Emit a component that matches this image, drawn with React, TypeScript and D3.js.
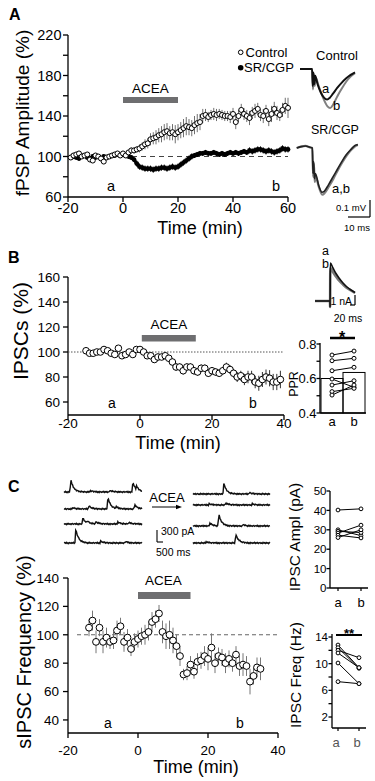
import React from 'react';
import * as d3 from 'd3';

const FONT = '"Liberation Sans", Arial, Helvetica, sans-serif';
const BAR = '#6e6e70';
const ERR = '#707070';

// ---------------- Panel A ----------------
const aStart = -19; // minutes, one point per minute
const aControl = [99, 101, 102, 103, 100, 101, 102, 97, 96, 101, 100, 98, 95, 99, 100, 101, 102, 103, 101,
  103, 101, 104, 106, 106,
  107, 108, 110, 112, 113, 117,
  118, 119, 121, 122, 124, 125, 123, 124, 122, 124,
  126, 128, 130, 129, 128, 131, 133, 134, 140, 141,
  139, 141, 142, 141, 142, 141, 140, 140, 139, 142,
  134, 140, 146, 142, 140, 138, 143, 145, 147, 141,
  140, 145, 137, 142, 147, 143, 141, 146, 150, 148];
const aControlErr = [2, 2, 2, 2, 2, 2, 2, 2, 2, 2, 2, 2, 2, 2, 2, 2, 2, 2, 2, 2, 2, 2, 3, 3,
  3, 4, 4, 5, 5, 6,
  6, 7, 7, 8, 8, 8, 7, 8, 9, 8,
  8, 9, 9, 8, 8, 9, 9, 8, 7, 6,
  5, 5, 6, 6, 5, 5, 5, 5, 6, 6,
  7, 6, 6, 6, 6, 7, 6, 7, 6, 6,
  7, 6, 7, 8, 7, 7, 6, 7, 8, 10];
const aSR = [99, 100, 99, 98, 100, 101, 99, 98, 100, 99, 100, 98, 100, 99, 100, 101, 101, 102, 101,
  102, 101, 100, 99, 97,
  93, 90, 89, 88, 88, 88,
  87, 88, 88, 89, 89, 88, 89, 90, 89, 90,
  92, 94, 96, 98, 100, 101, 102, 103, 103, 104,
  103, 103, 104, 103, 102, 103, 102, 103, 104, 103,
  104, 103, 104, 105, 104, 106, 105, 106, 107, 107,
  106, 105, 106, 105, 104, 105, 106, 108, 107, 107];
const aSRErr = [2, 2, 2, 2, 2, 2, 2, 2, 2, 2, 2, 2, 2, 2, 2, 2, 2, 2, 2,
  2, 2, 2, 2.5, 2.5,
  3, 3, 3, 3, 3, 3,
  3, 3, 3, 3, 3, 3, 3, 3, 3, 3,
  3, 3, 3, 3, 3, 2.5, 2.5, 2.5, 2.5, 2.5,
  2.5, 2.5, 2.5, 2.5, 2.5, 2.5, 2.5, 2.5, 2.5, 2.5,
  2.5, 2.5, 2.5, 2.5, 2.5, 3, 3, 3, 3, 3,
  3, 3, 3, 3, 3, 3, 3, 3, 3, 3];
const aYTicks = [60, 100, 140, 180, 220];
const aYMinor = [80, 120, 160, 200];
const aXTicks = [-20, 0, 20, 40, 60];
const aDrug = [0, 20];

// fEPSP example traces: [ms, mV]
const ctrlTraceA = [[0, 0], [5.5, 0], [5.8, -0.1], [6.1, -0.02], [6.5, -0.09], [6.9, -0.04], [8, -0.09], [9.5, -0.14], [11, -0.17], [12.3, -0.18], [13.5, -0.17], [15, -0.145], [17, -0.11], [19, -0.08], [21, -0.055], [23, -0.035], [25, -0.02]];
const ctrlTraceB = [[0, 0], [5.5, 0], [5.9, -0.12], [6.3, -0.03], [6.7, -0.1], [7.1, -0.05], [8.5, -0.1], [10.5, -0.17], [12.5, -0.22], [13.7, -0.23], [15, -0.21], [17, -0.16], [19, -0.115], [21, -0.075], [23, -0.045], [25, -0.025]];
const srTraceA = [[-1.5, 0], [0.5, 0.008], [2.5, 0.012], [4.5, 0.004], [5.6, 0], [5.9, -0.15], [6.2, -0.08], [6.6, -0.18], [7, -0.15], [8.5, -0.22], [10, -0.26], [11, -0.255], [13, -0.215], [15, -0.17], [17, -0.125], [19, -0.08], [21, -0.04], [23, -0.01], [25, 0.015], [26.3, 0.02]];
const srTraceB = [[-1.5, 0], [0.5, 0.008], [2.5, 0.012], [4.5, 0.004], [5.6, 0], [6.0, -0.17], [6.3, -0.09], [6.7, -0.2], [7.1, -0.17], [8.7, -0.235], [10.2, -0.275], [11.2, -0.265], [13.2, -0.225], [15.2, -0.18], [17.2, -0.13], [19.2, -0.085], [21.2, -0.045], [23.2, -0.012], [25.2, 0.012], [26.3, 0.018]];

// ---------------- Panel B ----------------
const bStart = -15;
const bIPSC = [101, 99, 99, 100, 100, 102, 101, 99, 98, 103, 97, 98, 100, 98, 102, 102, 100, 97, 97, 94, 96, 96, 97, 95, 92, 88, 88, 85, 88, 88, 85, 84, 87, 87, 83, 85, 84, 83, 85, 88, 86, 83, 80, 81, 78, 80, 80, 76, 75, 78, 80, 79, 76, 76, 78];
const bIPSCErr = [1.5, 1.5, 1.5, 1.5, 1.5, 1.5, 1.5, 1.5, 1.5, 2, 1.5, 1.5, 1.5, 1.5, 2,
  2, 2, 2, 2, 2.5, 2.5, 2.5, 2.5, 2.5, 3,
  3, 3, 3, 3, 3, 3, 3, 3, 3, 3,
  3, 3, 3, 3, 3.5, 3.5, 3.5, 4, 4, 4.5,
  5, 5, 5, 6, 6, 6, 6.5, 6.5, 6.5, 7];
const bYTicks = [60, 80, 100, 120, 140, 160];
const bXTicks = [-20, 0, 20, 40];
const bDrug = [0.5, 15.5];
// eIPSC example traces: [ms, nA]
const ipscTraceA = [[0, 0], [15, 0], [15.1, -0.6], [15.3, 3.8], [18, 3.3], [21, 2.75], [24, 2.3], [28, 1.8], [32, 1.4], [36, 1.1], [40, 0.85]];
const ipscTraceB = [[0, 0], [15, 0], [15.1, -0.6], [15.3, 3.3], [18, 2.9], [21, 2.45], [24, 2.05], [28, 1.65], [32, 1.3], [36, 1.05], [40, 0.8]];
// PPR
const pprCats = ['a', 'b'];
const pprA = [0.736, 0.703, 0.645, 0.597, 0.562, 0.524, 0.504];
const pprB = [0.759, 0.717, 0.665, 0.549, 0.587, 0.543, 0.562];
const pprMean = [0.6, 0.635];
const pprTicks = [0.4, 0.6, 0.8];
const pprMinor = [0.5, 0.7];

// ---------------- Panel C ----------------
const cStart = -14;
const cFreq = [105, 110, 95, 105, 95, 98, 95, 96, 103, 106, 95, 98, 90, 95, 97, 99, 100, 102, 109, 111, 115, 102, 99, 100, 96, 92, 85, 72, 73, 79, 74, 81, 82, 85, 83, 91, 80, 85, 84, 80, 83, 80, 86, 78, 79, 78, 67, 71, 77, 76];
const cFreqErr = [6, 7, 8, 6, 8, 7, 5, 6, 7, 6, 7, 6, 5, 6, 6, 6, 7, 6, 7, 6, 6, 8, 9, 10, 9, 8, 7, 4, 5, 6, 5, 6, 6, 7, 8, 10, 7, 6, 6, 7, 6, 6, 6, 7, 8, 7, 9, 6, 7, 8];
const cYTicks = [40, 60, 80, 100, 120, 140];
const cXTicks = [-20, 0, 20, 40];
const cDrug = [0, 15];
const amplA = [40.2, 30.0, 29.2, 28.3, 27.2, 26.0];
const amplB = [40.8, 27.0, 28.6, 32.4, 25.8, 30.0];
const amplTicks = [0, 10, 20, 30, 40, 50];
const freqA = [12.8, 12.4, 12.0, 11.6, 10.1, 7.3];
const freqB = [9.4, 9.3, 10.9, 9.4, 7.0, 7.0];
const freqTicks = [2, 6, 10, 14];
const freqMinor = [4, 8, 12];
// sIPSC sample traces: events [ms, pA]
const ipscDur = 2500;
const leftEvents = [
  [[190, 320], [820, 35], [1450, 40], [2180, 250], [2300, 90]],
  [[260, 35], [770, 80], [1380, 300], [1650, 45], [2240, 110]],
  [[577, 150], [720, 50], [1000, 55], [1700, 50], [2050, 40]],
  [[352, 350], [1150, 45], [1950, 35]],
];
const rightEvents = [
  [[974, 275], [1800, 35]],
  [[500, 30], [1039, 50], [1900, 30]],
  [[520, 75], [812, 300], [1600, 35]],
  [[400, 30], [1364, 225]],
];
const ipscNoise = [10, -8, 14, -12, 5, -15, 12, 3, -10, 8, -5, 15, -12, 7, -3, 12, -14, 5, 10, -8, 3, -12, 15, -5, 8, -10, 12, -3, 5, -15, 10, -8, 14, -5, 3, -12, 8, 12, -10, 5];

// ---------------- helpers ----------------
type S = d3.ScaleLinear<number, number>;

function YAxis({ scale, x, ticks, minor = [], size, labelX, tick = 5, fmt = (d: number) => String(d), top, bottom }: any) {
  return (
    <g>
      <line x1={x} x2={x} y1={bottom} y2={top} stroke="#000" strokeWidth={1.3} />
      {ticks.map((t: number) => (
        <g key={t}>
          <line x1={x - tick} x2={x} y1={scale(t)} y2={scale(t)} stroke="#000" strokeWidth={1.3} />
          <text x={labelX} y={scale(t)} dy="0.36em" textAnchor="end" fontSize={size}>{fmt(t)}</text>
        </g>
      ))}
      {minor.map((t: number) => (
        <line key={'m' + t} x1={x - tick} x2={x} y1={scale(t)} y2={scale(t)} stroke="#000" strokeWidth={1.3} />
      ))}
    </g>
  );
}

function XAxis({ scale, y, ticks, size, labelY, tick = 5, left, right }: any) {
  return (
    <g>
      <line x1={left} x2={right} y1={y} y2={y} stroke="#000" strokeWidth={1.3} />
      {ticks.map((t: number) => (
        <g key={t}>
          <line x1={scale(t)} x2={scale(t)} y1={y} y2={y + tick} stroke="#000" strokeWidth={1.3} />
          <text x={scale(t)} y={labelY} textAnchor="middle" fontSize={size}>{t}</text>
        </g>
      ))}
    </g>
  );
}

function RotLabel({ x, y, size, children }: any) {
  return (
    <text transform={`translate(${x},${y}) rotate(-90)`} textAnchor="middle" fontSize={size}>{children}</text>
  );
}

function ErrBars({ vals, errs, start, xs, ys, color = ERR, w = 1 }: any) {
  return (
    <g stroke={color} strokeWidth={w}>
      {vals.map((v: number, i: number) => (
        <line key={i} x1={xs(start + i)} x2={xs(start + i)} y1={ys(v - errs[i])} y2={ys(v + errs[i])} />
      ))}
    </g>
  );
}

function OpenCircles({ vals, start, xs, ys, r }: any) {
  return (
    <g fill="#fff" stroke="#000" strokeWidth={1}>
      {vals.map((v: number, i: number) => (
        <circle key={i} cx={xs(start + i)} cy={ys(v)} r={r} />
      ))}
    </g>
  );
}

function curvePath(pts: number[][], xs: S, ys: S) {
  return d3.line<number[]>().x(d => xs(d[0])).y(d => ys(d[1])).curve(d3.curveMonotoneX)(pts) || '';
}

function sipscPath(events: number[][], x0: number, width: number, base: number, row: number) {
  const xs = d3.scaleLinear().domain([0, ipscDur]).range([x0, x0 + width]);
  const ys = d3.scaleLinear().domain([0, 300]).range([base, base - 12]);
  const dt = 25;
  const tau = 90;
  const rise = 25;
  const pts: number[][] = [];
  for (let i = 0; i * dt <= ipscDur; i++) {
    const t = i * dt;
    let v = ipscNoise[(i + row * 13) % ipscNoise.length];
    for (const [t0, a] of events) {
      const d = t - t0;
      if (d >= 0) v += d < rise ? a * (d / rise) : a * Math.exp(-(d - rise) / tau);
    }
    pts.push([t, v]);
  }
  return d3.line<number[]>().x(d => xs(d[0])).y(d => ys(d[1]))(pts) || '';
}

function PairedLines({ a, b, xa, xb, ys, r = 2 }: any) {
  return (
    <g>
      {a.map((v: number, i: number) => (
        <line key={'l' + i} x1={xa} x2={xb} y1={ys(v)} y2={ys(b[i])} stroke="#000" strokeWidth={1} />
      ))}
      {a.map((v: number, i: number) => (
        <g key={'c' + i} fill="#fff" stroke="#000" strokeWidth={1}>
          <circle cx={xa} cy={ys(v)} r={r} />
          <circle cx={xb} cy={ys(b[i])} r={r} />
        </g>
      ))}
    </g>
  );
}

export default function App() {
  // ----- A scales -----
  const xA = d3.scaleLinear().domain([-20, 60]).range([68, 288]);
  const yA = d3.scaleLinear().domain([60, 220]).range([197, 35]);
  const xTA = d3.scaleLinear().domain([0, 25]).range([300, 355]);
  const yTCtrl = d3.scaleLinear().domain([0, -0.1]).range([69, 86]);
  const yTSR = d3.scaleLinear().domain([0, -0.1]).range([148, 165]);

  // ----- B scales -----
  const xB = d3.scaleLinear().domain([-20, 40]).range([68, 284]);
  const yB = d3.scaleLinear().domain([49.6, 160]).range([415, 277]);
  const xTB = d3.scaleLinear().domain([0, 40]).range([315, 355]);
  const yTB = d3.scaleLinear().domain([0, 1]).range([301, 291]);
  const xP = d3.scaleBand<string>().domain(pprCats).range([321, 365]).paddingInner(0);
  const yP = d3.scaleLinear().domain([0.4, 0.8]).range([413, 344]);

  // ----- C scales -----
  const xC = d3.scaleLinear().domain([-20, 40]).range([68, 278]);
  const yC = d3.scaleLinear().domain([30.8, 140]).range([733, 578]);
  const xAmp = d3.scalePoint<string>().domain(pprCats).range([338, 361]);
  const yAmp = d3.scaleLinear().domain([0, 50]).range([588, 491]);
  const xFr = d3.scalePoint<string>().domain(pprCats).range([338, 359]);
  const yFr = d3.scaleLinear().domain([0.35, 14.45]).range([728, 634]);

  const srLine = d3.line<number>().x((_, i) => xA(aStart + i)).y(d => yA(d))(aSR) || '';

  return (
    <svg width={375} height={781} style={{ position: 'absolute', left: 0, top: 0, background: '#fff' }} fontFamily={FONT}>
      <rect x={0} y={0} width={375} height={781} fill="#fff" />
      {/* ================= A ================= */}
      <text x={9} y={20} fontSize={16} fontWeight="bold">A</text>
      <RotLabel x={29} y={113} size={19}>fPSP Amplitude (%)</RotLabel>
      <YAxis scale={yA} x={68} ticks={aYTicks} minor={aYMinor} size={14.5} labelX={61.5} top={35} bottom={197} />
      <XAxis scale={xA} y={197} ticks={aXTicks} size={14.5} labelY={213} left={68} right={288} />
      <text x={200} y={234} textAnchor="middle" fontSize={18}>Time (min)</text>
      <line x1={xA(0)} x2={xA(60)} y1={yA(100)} y2={yA(100)} stroke="#444" strokeWidth={1.2} strokeDasharray="5,4" />
      <rect x={xA(aDrug[0])} y={97} width={xA(aDrug[1]) - xA(aDrug[0])} height={6} fill={BAR} />
      <text x={(xA(aDrug[0]) + xA(aDrug[1])) / 2} y={93} textAnchor="middle" fontSize={13.5}>ACEA</text>
      <ErrBars vals={aControl} errs={aControlErr} start={aStart} xs={xA} ys={yA} />
      <ErrBars vals={aSR} errs={aSRErr} start={aStart} xs={xA} ys={yA} color="#000" />
      <path d={srLine} fill="none" stroke="#000" strokeWidth={3.2} />
      <g fill="#000">
        {aSR.map((v, i) => <circle key={i} cx={xA(aStart + i)} cy={yA(v)} r={2.4} />)}
      </g>
      <OpenCircles vals={aControl} start={aStart} xs={xA} ys={yA} r={2.5} />
      <text x={111} y={191} textAnchor="middle" fontSize={14.5}>a</text>
      <text x={276} y={191} textAnchor="middle" fontSize={14.5}>b</text>
      {/* legend */}
      <circle cx={240.7} cy={52.3} r={2.3} fill="#fff" stroke="#000" strokeWidth={1} />
      <text x={245.5} y={56.5} fontSize={13}>Control</text>
      <circle cx={240.7} cy={67.7} r={2.8} fill="#000" />
      <text x={244} y={72} fontSize={13}>SR/CGP</text>
      {/* fEPSP traces */}
      <text x={337} y={60} textAnchor="middle" fontSize={13}>Control</text>
      <path d={curvePath(ctrlTraceB, xTA, yTCtrl)} fill="none" stroke="#808080" strokeWidth={2} />
      <path d={curvePath(ctrlTraceA, xTA, yTCtrl)} fill="none" stroke="#111" strokeWidth={2} />
      <text x={322} y={93} fontSize={13}>a</text>
      <text x={333} y={110} fontSize={13}>b</text>
      <text x={335} y={134} textAnchor="middle" fontSize={12.5}>SR/CGP</text>
      <path d={curvePath(srTraceB, xTA, yTSR)} fill="none" stroke="#808080" strokeWidth={2.2} />
      <path d={curvePath(srTraceA, xTA, yTSR)} fill="none" stroke="#222" strokeWidth={1.6} />
      <text x={332} y={193} fontSize={13}>a,b</text>
      <line x1={370} x2={370} y1={200} y2={217} stroke="#000" strokeWidth={1.2} />
      <line x1={348} x2={370} y1={217} y2={217} stroke="#000" strokeWidth={1.2} />
      <text x={366} y={211} textAnchor="end" fontSize={9.5}>0.1 mV</text>
      <text x={357} y={231} textAnchor="middle" fontSize={9.5}>10 ms</text>

      {/* ================= B ================= */}
      <text x={8} y={263} fontSize={16} fontWeight="bold">B</text>
      <RotLabel x={28} y={331} size={21}>IPSCs (%)</RotLabel>
      <YAxis scale={yB} x={68} ticks={bYTicks} size={13.5} labelX={60} top={277} bottom={415} />
      <XAxis scale={xB} y={415} ticks={bXTicks} size={13.5} labelY={428} left={68} right={284} />
      <text x={178} y={449} textAnchor="middle" fontSize={18}>Time (min)</text>
      <line x1={xB(-20)} x2={xB(40)} y1={yB(100)} y2={yB(100)} stroke="#555" strokeWidth={1} strokeDasharray="1.5,1.5" />
      <rect x={xB(bDrug[0])} y={335} width={xB(bDrug[1]) - xB(bDrug[0])} height={6.5} fill={BAR} />
      <text x={169} y={329} textAnchor="middle" fontSize={13.5}>ACEA</text>
      <ErrBars vals={bIPSC} errs={bIPSCErr} start={bStart} xs={xB} ys={yB} color="#333" />
      <OpenCircles vals={bIPSC} start={bStart} xs={xB} ys={yB} r={3.3} />
      <text x={112} y={408} textAnchor="middle" fontSize={14}>a</text>
      <text x={253} y={408} textAnchor="middle" fontSize={14}>b</text>
      {/* eIPSC traces */}
      <path d={curvePath(ipscTraceB, xTB, yTB)} fill="none" stroke="#777" strokeWidth={2.6} />
      <path d={curvePath(ipscTraceA, xTB, yTB)} fill="none" stroke="#111" strokeWidth={1.6} />
      <text x={322} y={255} fontSize={12.5}>a</text>
      <text x={322} y={268} fontSize={12.5}>b</text>
      <line x1={355} x2={355} y1={295} y2={305} stroke="#000" strokeWidth={1.2} />
      <line x1={350} x2={355} y1={305} y2={305} stroke="#000" strokeWidth={1.2} />
      <text x={352} y={305} textAnchor="end" fontSize={10.5}>1 nA</text>
      <text x={348} y={322} textAnchor="middle" fontSize={10.5}>20 ms</text>
      {/* PPR */}
      <RotLabel x={298} y={384} size={12.5}>PPR</RotLabel>
      <YAxis scale={yP} x={320} ticks={pprTicks} minor={pprMinor} size={13} labelX={316.5} tick={3.5} fmt={(d: number) => d.toFixed(1)} top={343} bottom={413} />
      <line x1={320} x2={366} y1={413} y2={413} stroke="#000" strokeWidth={1.3} />
      {pprCats.map((c, i) => (
        <rect key={c} x={xP(c)!} y={yP(pprMean[i])} width={xP.bandwidth()} height={yP(0.4) - yP(pprMean[i])} fill="none" stroke="#000" strokeWidth={1} />
      ))}
      <PairedLines a={pprA} b={pprB} xa={xP('a')! + xP.bandwidth() / 2} xb={xP('b')! + xP.bandwidth() / 2} ys={yP} r={2} />
      {pprCats.map(c => (
        <text key={c} x={xP(c)! + xP.bandwidth() / 2} y={426} textAnchor="middle" fontSize={13}>{c}</text>
      ))}
      <line x1={330} x2={355} y1={338} y2={338} stroke="#000" strokeWidth={2.5} />
      <text x={342} y={342.5} textAnchor="middle" fontSize={16} fontWeight="bold">*</text>

      {/* ================= C ================= */}
      <text x={8} y={492} fontSize={16} fontWeight="bold">C</text>
      {leftEvents.map((ev, i) => (
        <path key={'l' + i} d={sipscPath(ev, 64, 78, [492, 509, 524, 543][i], i)} fill="none" stroke="#111" strokeWidth={1.4} />
      ))}
      {rightEvents.map((ev, i) => (
        <path key={'r' + i} d={sipscPath(ev, 193, 77, [494, 505, 526, 543][i], i + 4)} fill="none" stroke="#111" strokeWidth={1.4} />
      ))}
      <text x={167} y={502} textAnchor="middle" fontSize={13}>ACEA</text>
      <line x1={152} x2={178} y1={507} y2={507} stroke="#000" strokeWidth={1} />
      <path d="M176,504.8 L182,507 L176,509.2 Z" fill="#000" />
      <line x1={157} x2={157} y1={530} y2={542} stroke="#000" strokeWidth={1.1} />
      <line x1={157} x2={163} y1={542} y2={542} stroke="#000" strokeWidth={1.1} />
      <text x={161} y={535} fontSize={10.5}>300 pA</text>
      <text x={156} y={556} fontSize={10.5}>500 ms</text>

      <RotLabel x={31} y={652} size={20}>sIPSC Frequency (%)</RotLabel>
      <YAxis scale={yC} x={68} ticks={cYTicks} size={13.5} labelX={59} top={578} bottom={733} />
      <XAxis scale={xC} y={733} ticks={cXTicks} size={13.5} labelY={755} left={68} right={278} />
      <text x={196} y={773} textAnchor="middle" fontSize={18}>Time (min)</text>
      <line x1={77} x2={278} y1={yC(100)} y2={yC(100)} stroke="#666" strokeWidth={1.1} strokeDasharray="4,3" />
      <rect x={xC(cDrug[0])} y={592} width={xC(cDrug[1]) - xC(cDrug[0])} height={7} fill={BAR} />
      <text x={163.5} y={585} textAnchor="middle" fontSize={13.5}>ACEA</text>
      <ErrBars vals={cFreq} errs={cFreqErr} start={cStart} xs={xC} ys={yC} color="#777" />
      <OpenCircles vals={cFreq} start={cStart} xs={xC} ys={yC} r={3.4} />
      <text x={108} y={728} textAnchor="middle" fontSize={14}>a</text>
      <text x={240} y={728} textAnchor="middle" fontSize={14}>b</text>

      {/* IPSC Ampl */}
      <RotLabel x={300} y={537} size={15.5}>IPSC Ampl (pA)</RotLabel>
      <YAxis scale={yAmp} x={330} ticks={amplTicks} size={11.5} labelX={326.5} tick={3.5} top={491} bottom={588} />
      <line x1={330} x2={368} y1={588} y2={588} stroke="#000" strokeWidth={1.3} />
      {pprCats.map(c => (
        <g key={c}>
          <line x1={xAmp(c)!} x2={xAmp(c)!} y1={588} y2={591} stroke="#000" strokeWidth={1.2} />
          <text x={xAmp(c)!} y={607} textAnchor="middle" fontSize={13}>{c}</text>
        </g>
      ))}
      <PairedLines a={amplA} b={amplB} xa={xAmp('a')!} xb={xAmp('b')!} ys={yAmp} r={1.9} />

      {/* IPSC Freq */}
      <RotLabel x={301} y={675} size={15.5}>IPSC Freq (Hz)</RotLabel>
      <YAxis scale={yFr} x={332} ticks={freqTicks} minor={freqMinor} size={11.5} labelX={328} tick={3.5} top={634} bottom={728} />
      <line x1={332} x2={366} y1={728} y2={728} stroke="#000" strokeWidth={1.3} />
      {pprCats.map(c => (
        <g key={c}>
          <line x1={xFr(c)!} x2={xFr(c)!} y1={728} y2={731} stroke="#000" strokeWidth={1.2} />
          <text x={xFr(c)! - 2} y={747} textAnchor="middle" fontSize={13} fill="#555">{c}</text>
        </g>
      ))}
      <PairedLines a={freqA} b={freqB} xa={xFr('a')!} xb={xFr('b')!} ys={yFr} r={1.9} />
      <line x1={336} x2={362} y1={635} y2={635} stroke="#000" strokeWidth={2} />
      <text x={349} y={638} textAnchor="middle" fontSize={13} fontWeight="bold">**</text>
    </svg>
  );
}
